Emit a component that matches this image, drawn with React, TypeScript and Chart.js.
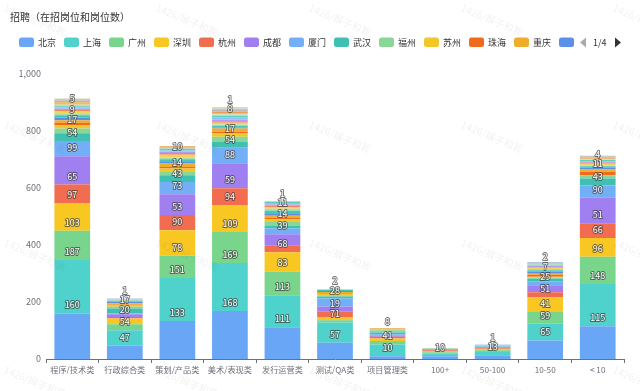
import React, { useEffect, useRef } from 'react';
import { Chart, registerables } from 'chart.js';

Chart.register(...registerables);

const FONT = "'Noto Sans CJK SC', 'Noto Sans', sans-serif";

const titleText = '招聘（在招岗位和岗位数）';
const pageText = '1/4';
const watermarkText = '1426/猴子和我';

const categories = ['程序/技术类', '行政综合类', '策划/产品类', '美术/表现类', '发行运营类', '测试/QA类', '项目管理类', '100+', '50-100', '10-50', '< 10'];

const cities = ['北京', '上海', '广州', '深圳', '杭州', '成都', '厦门', '武汉', '福州', '苏州', '珠海', '重庆', '南京', '西安', '长沙', '天津', '合肥', '郑州', '济南', '青岛', '大连', '无锡', '南昌', '昆明', '沈阳', '东莞', '佛山', '宁波', '海口', '贵阳'];

const cityColors = ['#6aa6f6', '#4fd2cb', '#7ad58c', '#f8c722', '#f26c50', '#a07ff0', '#73aff7', '#3fc0b2', '#88d698', '#f2c72b', '#f06c1c', '#eeae2b', '#5b8fe8', '#46c6b8', '#a6dcae', '#f5d25a', '#f4865e', '#b59cf2', '#8fc0f5', '#5fcfc0', '#b9e0b8', '#e9c46a', '#f19a55', '#e8b85a', '#7fa5e8', '#d6c9a0', '#c8bd9a', '#ddd3b5', '#bfb59b', '#d2c8ae'];

// values per category, in city order
const techJobs = [160, 187, 103, 97, 65, 99, 54, 27, 17, 12, 8, 9, 9, 8, 7, 6, 6, 4, 5, 4, 5, 4, 3, 4, 3, 3, 2, 2, 1, 0];
const adminJobs = [47, 54, 21, 20, 5, 10, 3, 17, 6, 5, 2, 6, 4, 3, 5, 1, 1, 1, 1, 0, 0, 0, 0, 0, 0, 0, 0, 0, 0, 0];
const planJobs = [133, 151, 78, 90, 53, 73, 43, 24, 14, 9, 6, 12, 8, 7, 6, 10, 6, 5, 4, 5, 3, 4, 2, 1, 0, 0, 0, 0, 0, 0];
const artJobs = [168, 169, 109, 94, 59, 88, 54, 22, 17, 11, 6, 12, 2, 7, 5, 6, 5, 6, 8, 5, 6, 4, 5, 3, 4, 4, 1, 1, 1, 1];
const opsJobs = [111, 113, 83, 68, 24, 39, 20, 9, 14, 9, 5, 8, 6, 11, 7, 5, 6, 4, 5, 4, 1, 1, 1, 0, 0, 0, 0, 0, 0, 0];
const qaJobs = [57, 71, 8, 11, 19, 18, 28, 7, 5, 4, 2, 5, 4, 3, 2, 1, 1, 0, 0, 0, 0, 0, 0, 0, 0, 0, 0, 0, 0, 0];
const pmJobs = [10, 41, 12, 9, 6, 4, 5, 6, 8, 3, 2, 2, 0, 0, 0, 0, 0, 0, 0, 0, 0, 0, 0, 0, 0, 0, 0, 0, 0, 0];
const size100Plus = [10, 9, 5, 4, 3, 2, 2, 1, 1, 1, 0, 0, 0, 0, 0, 0, 0, 0, 0, 0, 0, 0, 0, 0, 0, 0, 0, 0, 0, 0];
const size50to100 = [13, 12, 6, 5, 3, 2, 3, 1, 1, 1, 1, 1, 1, 0, 0, 0, 0, 0, 0, 0, 0, 0, 0, 0, 0, 0, 0, 0, 0, 0];
const size10to50 = [65, 59, 41, 51, 18, 25, 14, 9, 4, 3, 7, 6, 5, 4, 5, 4, 3, 4, 2, 2, 2, 1, 2, 1, 2, 1, 0, 0, 0, 0];
const sizeUnder10 = [115, 148, 96, 66, 51, 90, 43, 24, 9, 4, 11, 8, 6, 5, 3, 6, 4, 3, 3, 3, 2, 3, 2, 3, 2, 2, 1, 0, 0, 0];

const categoryValues = [techJobs, adminJobs, planJobs, artJobs, opsJobs, qaJobs, pmJobs, size100Plus, size50to100, size10to50, sizeUnder10];

const yMax = 1000;
const yStep = 200;
const legendVisibleCount = 13;

function roundRect(ctx: CanvasRenderingContext2D, x: number, y: number, w: number, h: number, r: number) {
  ctx.beginPath();
  ctx.moveTo(x + r, y);
  ctx.lineTo(x + w - r, y);
  ctx.quadraticCurveTo(x + w, y, x + w, y + r);
  ctx.lineTo(x + w, y + h - r);
  ctx.quadraticCurveTo(x + w, y + h, x + w - r, y + h);
  ctx.lineTo(x + r, y + h);
  ctx.quadraticCurveTo(x, y + h, x, y + h - r);
  ctx.lineTo(x, y + r);
  ctx.quadraticCurveTo(x, y, x + r, y);
  ctx.closePath();
}

const stackLabelPlugin = {
  id: 'stackLabels',
  afterDatasetsDraw(chart: any) {
    const ctx: CanvasRenderingContext2D = chart.ctx;
    ctx.save();
    ctx.font = `9px ${FONT}`;
    ctx.textAlign = 'center';
    ctx.textBaseline = 'middle';
    const items: any[] = [];
    chart.data.datasets.forEach((ds: any, di: number) => {
      const meta = chart.getDatasetMeta(di);
      meta.data.forEach((bar: any, idx: number) => {
        const v = ds.data[idx];
        if (!v) return;
        const p = bar.getProps(['x', 'y'], true);
        const text = String(v);
        const w = ctx.measureText(text).width;
        items.push({ text, x: p.x, cy: p.y - 8.5, w, h: 9, pri: v, order: items.length });
      });
    });
    items.sort((a, b) => (b.pri - a.pri) || (a.order - b.order));
    const shown: any[] = [];
    for (const it of items) {
      const r = { l: it.x - it.w / 2, r: it.x + it.w / 2, t: it.cy - it.h / 2, b: it.cy + it.h / 2 };
      if (shown.some((s) => r.l < s.r && r.r > s.l && r.t < s.b && r.b > s.t)) continue;
      shown.push({ ...r, it });
    }
    ctx.lineJoin = 'round';
    for (const s of shown) {
      ctx.lineWidth = 1.8;
      ctx.strokeStyle = 'rgba(60,60,60,0.72)';
      ctx.strokeText(s.it.text, s.it.x, s.it.cy);
      ctx.fillStyle = '#ffffff';
      ctx.fillText(s.it.text, s.it.x, s.it.cy);
    }
    ctx.restore();
  },
};

const decorPlugin = {
  id: 'decor',
  afterDraw(chart: any) {
    const ctx: CanvasRenderingContext2D = chart.ctx;
    ctx.save();
    // title
    ctx.fillStyle = '#333';
    ctx.font = `10px ${FONT}`;
    ctx.textAlign = 'left';
    ctx.textBaseline = 'middle';
    ctx.fillText(titleText, 10, 17);
    // legend
    ctx.font = `9px ${FONT}`;
    for (let i = 0; i < legendVisibleCount; i++) {
      const x = 19 + i * 45;
      ctx.fillStyle = cityColors[i];
      roundRect(ctx, x, 37.5, 15, 9.5, 2.5);
      ctx.fill();
      if (i < legendVisibleCount - 1) {
        ctx.fillStyle = '#333';
        ctx.fillText(cities[i], x + 19, 42.5);
      }
    }
    // pager
    ctx.fillStyle = '#aaaaaa';
    ctx.beginPath();
    ctx.moveTo(586, 37.5);
    ctx.lineTo(586, 47.5);
    ctx.lineTo(580, 42.5);
    ctx.closePath();
    ctx.fill();
    ctx.fillStyle = '#333';
    ctx.fillText(pageText, 593, 42.5);
    ctx.beginPath();
    ctx.moveTo(615, 37.5);
    ctx.lineTo(615, 47.5);
    ctx.lineTo(621, 42.5);
    ctx.closePath();
    ctx.fill();
    // watermarks
    ctx.font = `10px ${FONT}`;
    ctx.fillStyle = 'rgba(0,0,0,0.06)';
    ctx.textAlign = 'center';
    const xs = [35, 187, 340, 492, 644];
    const ys = [20, 137, 255, 382];
    for (const wy of ys) {
      for (const wx of xs) {
        ctx.save();
        ctx.translate(wx, wy);
        ctx.rotate(0.4);
        ctx.fillText(watermarkText, 0, 0);
        ctx.restore();
      }
    }
    ctx.restore();
  },
};

export default function App() {
  const canvasRef = useRef<HTMLCanvasElement | null>(null);

  useEffect(() => {
    const canvas = canvasRef.current;
    if (!canvas) return;
    const datasets = cities.map((name, i) => ({
      label: name,
      data: categoryValues.map((arr) => arr[i] ?? 0),
      backgroundColor: cityColors[i],
      borderWidth: 0,
      barPercentage: 0.68,
      categoryPercentage: 1,
      stack: 'jobs',
    }));
    const chart = new Chart(canvas, {
      type: 'bar',
      data: { labels: categories, datasets },
      options: {
        responsive: false,
        animation: false,
        devicePixelRatio: 1,
        layout: { padding: { top: 74, right: 16, bottom: 0, left: 0 } },
        plugins: {
          legend: { display: false },
          title: { display: false },
          tooltip: { enabled: false },
        },
        scales: {
          x: {
            stacked: true,
            grid: { display: true, drawOnChartArea: false, drawTicks: true, tickLength: 4, color: '#6e7079', offset: true },
            border: { display: true, color: '#6e7079', width: 1 },
            ticks: { color: '#6e7079', font: { size: 8.2, family: FONT }, maxRotation: 0, minRotation: 0, autoSkip: false, padding: 2 },
            afterFit(scale: any) {
              scale.height = 32;
            },
          },
          y: {
            stacked: true,
            min: 0,
            max: yMax,
            ticks: { stepSize: yStep, color: '#6e7079', font: { size: 9, family: FONT }, padding: 5 },
            grid: { display: false, drawTicks: false },
            border: { display: false },
            afterFit(scale: any) {
              scale.width = 46;
            },
          },
        },
      },
      plugins: [stackLabelPlugin, decorPlugin],
    } as any);
    return () => chart.destroy();
  }, []);

  return (
    <div style={{ position: 'fixed', left: 0, top: 0, width: 640, height: 391, background: '#fff' }}>
      <canvas ref={canvasRef} width={640} height={391} style={{ width: 640, height: 391, display: 'block' }} />
    </div>
  );
}
